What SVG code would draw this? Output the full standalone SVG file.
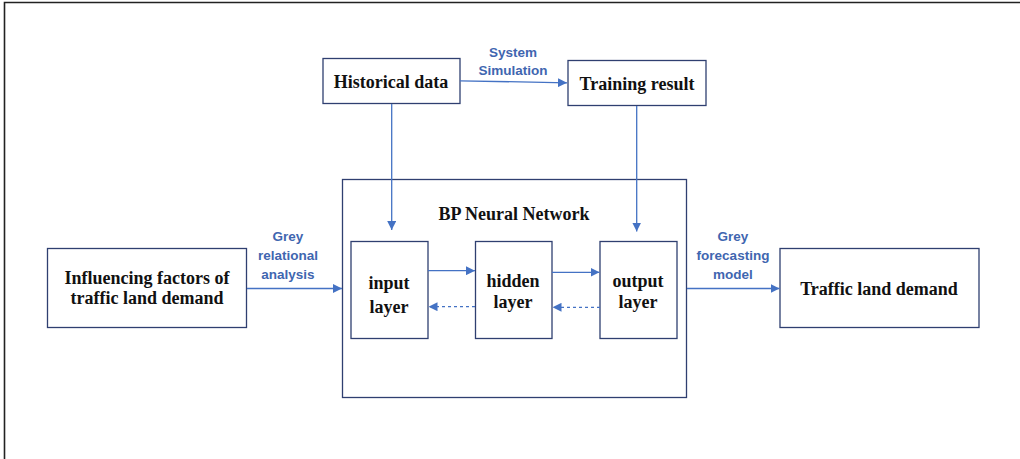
<svg xmlns="http://www.w3.org/2000/svg" width="1020" height="459" viewBox="0 0 1020 459">
<defs>
<style>
.box{fill:#fff;stroke:#2f3f70;stroke-width:1.3}
.t{font-family:"Liberation Serif","Times New Roman",serif;font-weight:bold;font-size:18px;fill:#111;text-anchor:middle}
.lbl{font-family:"Liberation Sans",Arial,sans-serif;font-weight:bold;font-size:13.5px;fill:#3f66b0;text-anchor:middle}
.c{stroke:#4472c4;stroke-width:1.3;fill:none}
.d{stroke-dasharray:3,3}
</style>
<marker id="ah" viewBox="0 0 10 10" refX="10" refY="5" markerWidth="9" markerHeight="9" markerUnits="userSpaceOnUse" orient="auto">
<path d="M0,0 L10,5 L0,10 Z" fill="#4472c4"/>
</marker>
</defs>
<rect width="1020" height="459" fill="#fff"/>
<path d="M4.5,459 V2.5 H1020" fill="none" stroke="#222" stroke-width="1.6"/>
<g id="bp">
<rect class="box" x="342.5" y="179.5" width="344" height="218"/>
<text class="t" x="514" y="220">BP Neural Network</text>
</g>
<g id="historical">
<rect class="box" x="323" y="58.5" width="137" height="45"/>
<text class="t" x="391" y="87.5">Historical data</text>
</g>
<g id="training">
<rect class="box" x="568" y="60.5" width="138" height="45"/>
<text class="t" x="637" y="89.5">Training result</text>
</g>
<g id="influencing">
<rect class="box" x="47.5" y="248.5" width="199" height="79"/>
<text class="t" x="147" y="283.5">Influencing factors of</text>
<text class="t" x="147" y="303.5">traffic land demand</text>
</g>
<g id="demand">
<rect class="box" x="780" y="248.5" width="199" height="79"/>
<text class="t" x="879" y="294.5">Traffic land demand</text>
</g>
<g id="input">
<rect class="box" x="351" y="241.5" width="77" height="97"/>
<text class="t" x="389" y="288.5">input</text>
<text class="t" x="389" y="312.5">layer</text>
</g>
<g id="hidden">
<rect class="box" x="475.5" y="241.5" width="76.5" height="97"/>
<text class="t" x="513" y="286.5">hidden</text>
<text class="t" x="513" y="307.5">layer</text>
</g>
<g id="output">
<rect class="box" x="600" y="241.5" width="77" height="97"/>
<text class="t" x="638" y="286.5">output</text>
<text class="t" x="638" y="307.5">layer</text>
</g>
<g id="connectors">
<path class="c" d="M460,80.8 L567,82.8" marker-end="url(#ah)"/>
<path class="c" d="M391.7,104 V230" marker-end="url(#ah)"/>
<path class="c" d="M636.7,106 V231.5" marker-end="url(#ah)"/>
<path class="c" d="M247,288.5 H342" marker-end="url(#ah)"/>
<path class="c" d="M687,288.5 H779.5" marker-end="url(#ah)"/>
<path class="c" d="M428,270.7 H475" marker-end="url(#ah)"/>
<path class="c" d="M552,272.3 H599.5" marker-end="url(#ah)"/>
<path class="c d" d="M475,306.7 H428.5" marker-end="url(#ah)"/>
<path class="c d" d="M600,307.3 H552.5" marker-end="url(#ah)"/>
</g>
<g id="labels">
<text class="lbl" x="513" y="57">System</text>
<text class="lbl" x="513" y="75">Simulation</text>
<text class="lbl" x="288" y="241">Grey</text>
<text class="lbl" x="288" y="259.5">relational</text>
<text class="lbl" x="288" y="278.5">analysis</text>
<text class="lbl" x="733" y="241">Grey</text>
<text class="lbl" x="733" y="259.5">forecasting</text>
<text class="lbl" x="733" y="278.5">model</text>
</g>
</svg>
